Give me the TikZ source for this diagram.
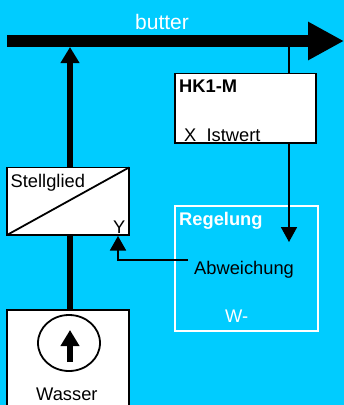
\documentclass[tikz,border=0pt]{standalone}
\usepackage{fontspec}
\setmainfont{Liberation Sans}
\usetikzlibrary{arrows.meta}
\definecolor{bgblue}{HTML}{00CCFF}
\tikzset{
  x=1pt,y=-1pt,
  box/.style={draw=black,fill=white,line width=1.8pt,inner sep=0pt},
  label/.style={font=\fontsize{18.3}{20}\selectfont,inner sep=0pt,text=black,anchor=base west},
  wlabel/.style={label,text=white},
  signal/.style={draw=black,line width=1.8pt},
  thickline/.style={draw=black,line width=6pt},
  headA/.style={-{Triangle[length=16pt,width=18pt]}},
}
\begin{document}
\begin{tikzpicture}
\useasboundingbox (0,0) rectangle (344,405);
\fill[bgblue] (0,0) rectangle (344,405);
% shapes
\coordinate (mainL) at (7,41);
\coordinate (mainR) at (344,41);
\coordinate (feedTop) at (70,47);
\coordinate (tap) at (289,47);
\coordinate (sensorIn) at (289,73.5);
\coordinate (sensorOut) at (289,143);
\coordinate (regIn) at (289,242);
\coordinate (abwStart) at (188,260);
\coordinate (bend) at (118,260);
\coordinate (yIn) at (118,236);
% connectors behind boxes
\draw[thickline] (70,168) -- (70,310);
\draw[thickline,headA] (70,168) -- (feedTop);
\draw[draw=black,line width=12pt,-{Triangle[length=36pt,width=36pt]}] (mainL) -- (mainR);
\draw[signal] (tap) -- (sensorIn);
\node[wlabel,font=\fontsize{21}{23}\selectfont] (bu) at (135,29) {butter};
% boxes
\filldraw[box] (175,73.5) rectangle (316,143);
\node[label,font=\fontsize{18.3}{20}\selectfont\bfseries] (hk) at (179,92) {HK1-M};
\node[label] (x) at (184,141.5) {X\ \ Istwert};
\filldraw[box] (7,167.5) rectangle (129,235);
\draw[signal] (7,235) -- (129,167.5);
\node[label] (st) at (10.5,187) {Stellglied};
\node[label] (y) at (113,233) {Y};
\draw[draw=white,line width=1.8pt] (175,206) rectangle (318,331);
\node[wlabel,font=\fontsize{18.3}{20}\selectfont\bfseries] (reg) at (179,225) {Regelung};
\node[label] (abw) at (194,274) {Abweichung};
\node[wlabel] (w) at (225,322.5) {W-};
\draw[draw=black,fill=white,line width=1.8pt] (7,310) -- (129,310) -- (129,408) -- (7,408) -- cycle;
\draw[draw=black,line width=1.8pt] (69,343) ellipse [x radius=31,y radius=28];
\coordinate (pumpB) at (70,362);
\coordinate (pumpT) at (70,330);
\draw[draw=black,line width=6pt,headA] (pumpB) -- (pumpT);
\node[label] (wa) at (36,400.7) {Wasser};
% signal arrows
\draw[signal,-{Triangle[length=15pt,width=16pt]}] (sensorOut) -- (regIn);
\draw[signal,-{Triangle[length=14.5pt,width=16pt]}] (abwStart) -- (bend) -- (yIn);
\end{tikzpicture}
\end{document}
